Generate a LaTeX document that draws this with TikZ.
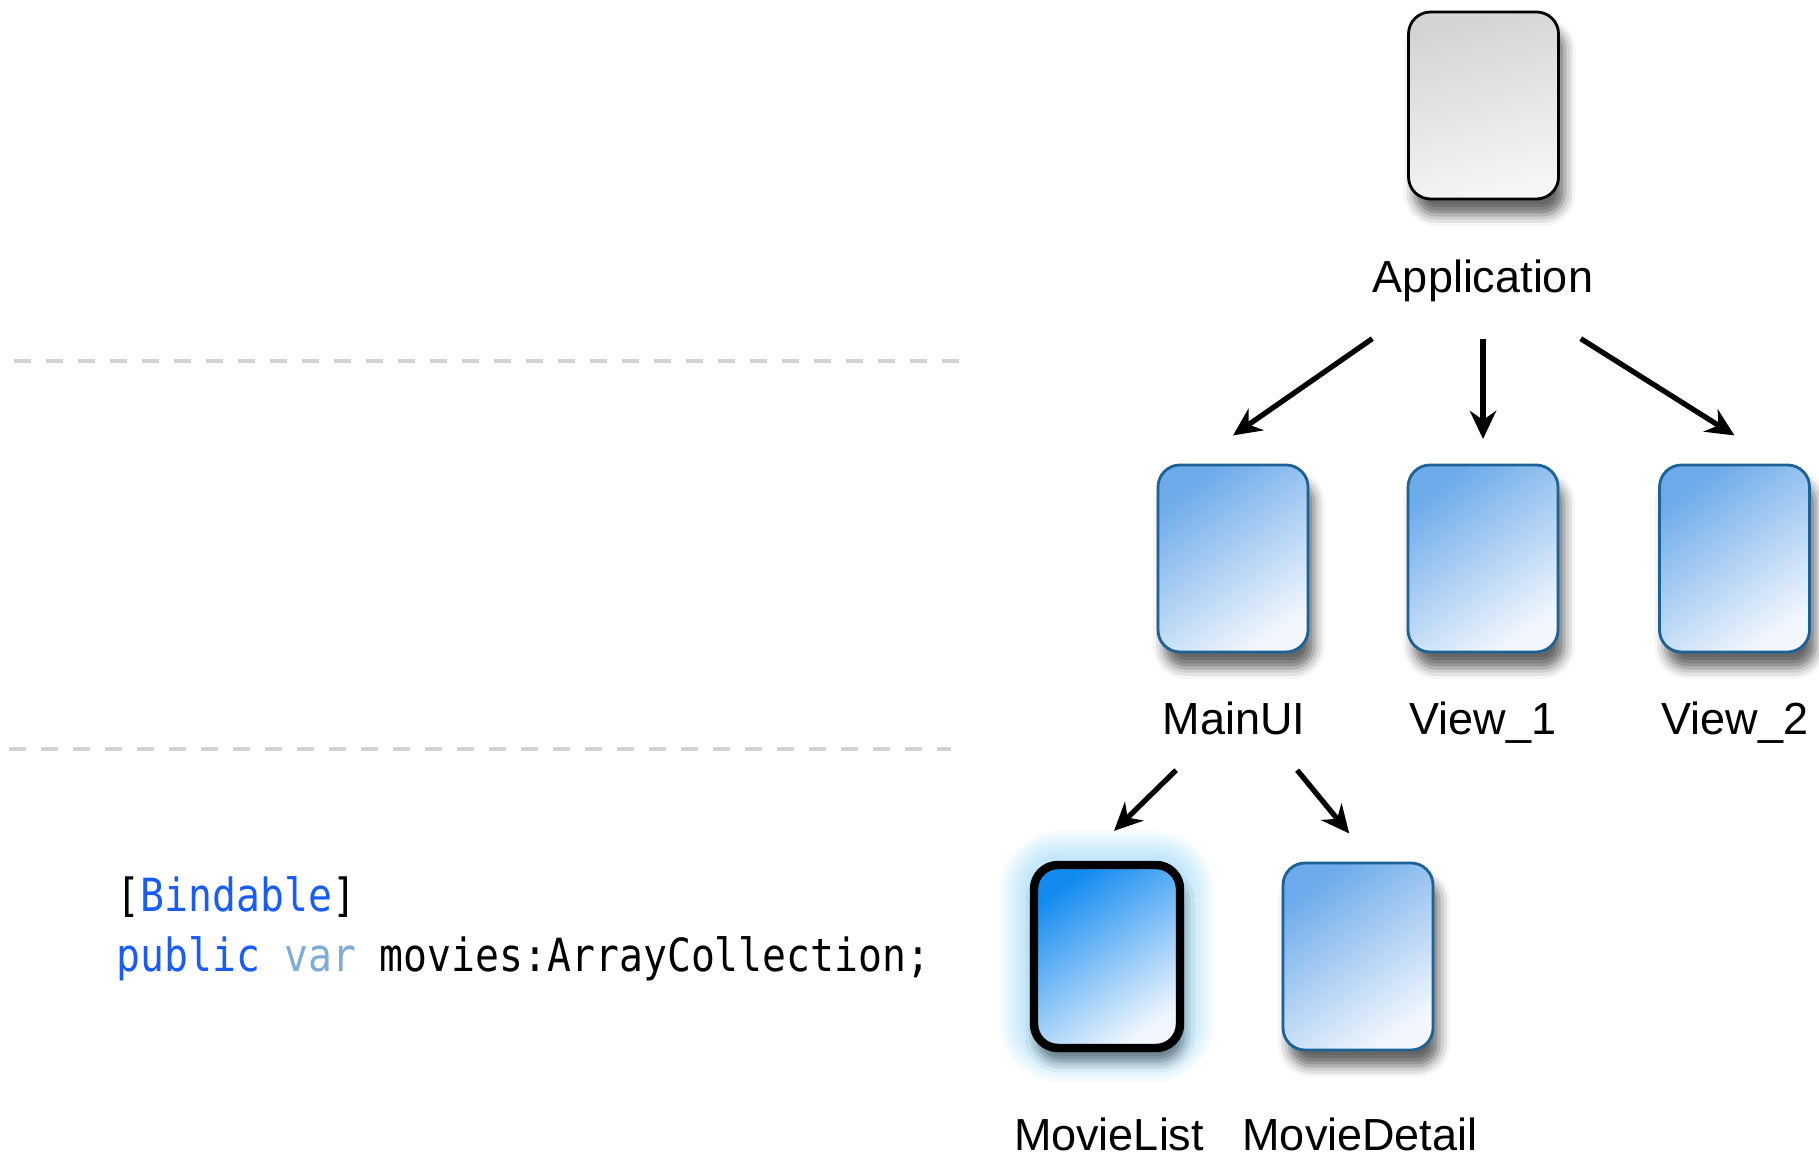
\documentclass[tikz,border=0pt]{standalone}
\usepackage{fontspec}
\setmainfont{Liberation Sans}
\newfontfamily\codefont{DejaVu Sans Mono}
\usetikzlibrary{arrows.meta, shadows, shadows.blur, backgrounds, positioning}

\definecolor{boxline}{RGB}{28,98,150}
\definecolor{boxtop}{RGB}{108,170,234}
\definecolor{boxbot}{RGB}{242,247,253}
\definecolor{seltop}{RGB}{18,138,240}
\definecolor{glowblue}{RGB}{100,195,245}
\definecolor{apptop}{RGB}{212,212,212}
\definecolor{appbot}{RGB}{246,246,246}
\definecolor{sepgray}{RGB}{211,211,211}
\definecolor{kwblue}{RGB}{22,92,255}
\definecolor{varblue}{RGB}{125,172,214}

\tikzset{
    card/.style={rectangle, rounded corners=2.2mm, minimum width=1.5cm, minimum height=1.87cm, inner sep=0pt, line width=0.8pt,
        blur shadow={shadow xshift=0.6mm, shadow yshift=-1.6mm, shadow blur radius=1.1mm, shadow opacity=60}},
    viewcard/.style={card, draw=boxline, top color=boxtop, bottom color=boxbot, shading angle=35},
    appcard/.style={card, draw=black, top color=apptop, bottom color=appbot, shading angle=15},
    selcard/.style={rectangle, rounded corners=2.4mm, minimum width=1.46cm, minimum height=1.83cm, inner sep=0pt, line width=2.4pt,
        draw=black, top color=seltop, bottom color=boxbot, shading angle=35,
        blur shadow={shadow xshift=0.3mm, shadow yshift=-1.3mm, shadow blur radius=1.1mm, shadow opacity=50}},
    lbl/.style={font=\fontsize{12.8}{15}\selectfont, inner sep=0pt, anchor=base},
    arr/.style={-{Stealth[length=8pt, width=7.5pt]}, line width=1.5pt},
    sep/.style={sepgray, line width=1.4pt, dash pattern=on 0.17cm off 0.15cm},
    code/.style={font=\fontsize{13}{15}\codefont, anchor=base west, inner sep=0pt}
}

\newcommand{\codeline}[1]{\scalebox{0.87}[1]{#1}}

\begin{document}
\begin{tikzpicture}
    \useasboundingbox (0,0) rectangle (18.19,11.55);

    % separators
    \draw[sep] (0.14,7.94) -- (9.60,7.94);
    \draw[sep] (0.09,4.06) -- (9.51,4.06);

    % code
    \node[code] (bindable) at (1.16,2.43) {\codeline{[\textcolor{kwblue}{Bindable}]}};
    \node[code] (movies) at (1.16,1.83) {\codeline{\textcolor{kwblue}{public} \textcolor{varblue}{var} movies:ArrayCollection;}};

    % components
    \node[appcard] (app) at (14.835,10.495) {};
    \node[lbl] (app-l) at (14.83,8.62) {Application};

    \node[viewcard] (mainui) at (12.33,5.965) {};
    \node[lbl] (mainui-l) at (12.34,4.20) {MainUI};
    \node[viewcard] (view1) at (14.83,5.965) {};
    \node[lbl] (view1-l) at (14.83,4.20) {View\_1};
    \node[viewcard] (view2) at (17.345,5.965) {};
    \node[lbl] (view2-l) at (17.35,4.20) {View\_2};

    \node[selcard] (movielist) at (11.07,1.985) {};
    \node[lbl] (movielist-l) at (11.09,0.04) {MovieList};
    \node[viewcard] (moviedetail) at (13.58,1.985) {};
    \node[lbl] (moviedetail-l) at (13.60,0.04) {MovieDetail};

    % glow round the selected one
    \begin{scope}[on background layer]
        \foreach \w in {3,5,...,17}
            \draw[glowblue, opacity=0.06, line width=\w pt, rounded corners=3mm]
                (movielist.south west) rectangle (movielist.north east);
    \end{scope}

    % arrows
    \draw[arr] ([yshift=-13pt]app-l.base west) -- ([yshift=8pt]mainui.north);
    \draw[arr] ([yshift=-13pt]app-l.base) -- ([yshift=7pt]view1.north);
    \draw[arr] ([xshift=-3.7pt, yshift=-13pt]app-l.base east) -- ([yshift=8pt]view2.north);
    \draw[arr] ([xshift=4pt, yshift=-10pt]mainui-l.base west) -- ([xshift=2pt, yshift=8.5pt]movielist.north);
    \draw[arr] ([xshift=-2.5pt, yshift=-10pt]mainui-l.base east) -- ([xshift=-2.5pt, yshift=8pt]moviedetail.north);
\end{tikzpicture}
\end{document}
